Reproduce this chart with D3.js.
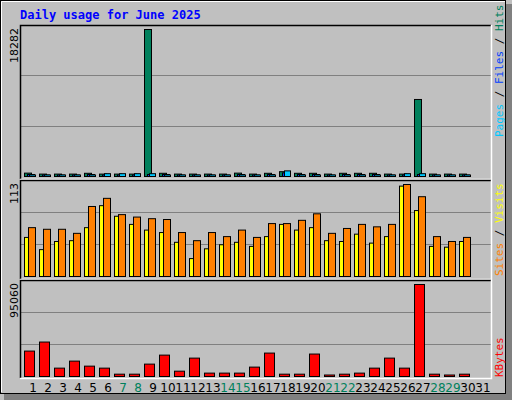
<!DOCTYPE html>
<html><head><meta charset="utf-8">
<script src="https://cdn.jsdelivr.net/npm/d3@7"></script>
<style>body{margin:0;background:#fff}</style>
</head><body>
<script>
var days = d3.range(1, 32);
var weekend = [7, 8, 14, 15, 21, 22, 28, 29];
var hits  = [420,300,300,300,400,300,300,300,18282,400,300,300,300,300,420,300,400,600,400,400,300,400,400,400,300,300,9580,300,300,300,0];
var files = [250,150,150,150,250,150,150,150,250,250,150,150,150,150,250,150,250,450,250,250,150,250,250,250,150,150,250,150,150,150,0];
var pages = [100,80,80,80,150,350,350,350,350,150,80,80,80,80,100,80,100,700,100,100,80,100,100,100,80,350,350,80,80,80,0];
var visits = [48,33,43,44,60,87,74,64,57,54,42,22,34,39,42,37,49,64,57,60,44,43,52,41,49,111,81,37,36,43,0];
var sites  = [60,58,58,53,86,96,76,73,71,70,54,44,54,49,57,48,65,65,69,77,53,59,64,61,64,113,98,49,43,48,0];
var kbytes = [26270,35600,8640,15900,10700,8640,2400,2400,12800,22100,5500,19000,3500,3500,3500,9700,24200,2400,2400,23200,1400,2400,3500,8640,19000,8640,95060,2400,1400,2400,0];

var W = 512, H = 400, L = 20, R = 491;
var svg = d3.select('body').append('svg').attr('width', W).attr('height', H)
  .style('font-family', 'DejaVu Sans Mono, monospace');

// background, shadow and border
svg.append('rect').attr('x', 0).attr('y', 0).attr('width', W).attr('height', H).attr('fill', '#c0c0c0');
svg.append('rect').attr('x', 506).attr('y', 4).attr('width', 6).attr('height', 396).attr('fill', '#808080');
svg.append('rect').attr('x', 4).attr('y', 394).attr('width', 508).attr('height', 6).attr('fill', '#808080');
svg.append('rect').attr('x', 0.5).attr('y', 0.5).attr('width', 505).attr('height', 393).attr('fill', 'none').attr('stroke', '#000');
svg.append('path').attr('d', 'M1.5,392V1.5H505').attr('fill', 'none').attr('stroke', '#fff');

svg.append('text').attr('x', 20).attr('y', 19).attr('fill', '#0000ff')
  .style('font-size', '12px').style('font-weight', 'bold').text('Daily usage for June 2025');

var x = d3.scaleBand().domain(days).range([L + 4, L + 4 + 15 * 31]).paddingInner(0);

var panels = [
  {top: 25, bot: 179, base: 176, maxY: 29, max: 18282, label: '18282'},
  {top: 180, bot: 279, base: 276, maxY: 184, max: 113, label: '113'},
  {top: 280, bot: 378, base: 376, maxY: 284, max: 95060, label: '95060'}
];

panels.forEach(function(p) {
  p.y = d3.scaleLinear().domain([0, p.max]).range([p.base, p.maxY]);
  var g = svg.append('g');
  g.append('rect').attr('x', L).attr('y', p.top).attr('width', R - L).attr('height', p.bot - p.top).attr('fill', '#c0c0c0');
  // grid lines
  [1 / 3, 2 / 3].forEach(function(f) {
    var gy = Math.round(p.base - (p.base - p.top) * f) + 0.5;
    g.append('line').attr('x1', L).attr('x2', R).attr('y1', gy).attr('y2', gy).attr('stroke', '#808080');
  });
  g.append('path').attr('d', 'M' + (L + 0.5) + ',' + (p.bot) + 'V' + (p.top + 0.5) + 'H' + R).attr('fill', 'none').attr('stroke', '#000').attr('stroke-width', 1.5);
  g.append('path').attr('d', 'M' + (L) + ',' + (p.bot + 0.5) + 'H' + (R + 0.5) + 'V' + (p.top)).attr('fill', 'none').attr('stroke', '#fff').attr('stroke-width', 1.5);
  g.append('text').attr('transform', 'translate(18,' + (p.top + 3) + ') rotate(-90)')
    .attr('text-anchor', 'end').style('font-size', '11px').attr('fill', '#000')
    .style('font-family', 'DejaVu Sans, sans-serif').text(p.label);
});

function bars(panel, data, dx, w, color) {
  svg.append('g').selectAll('rect').data(data).enter()
    .filter(function(d) { return d > 0; })
    .append('rect')
    .attr('x', function(d, i) { return x(days[i]) + dx + 0.5; })
    .attr('y', function(d) { return Math.min(panel.y(d), panel.base - 1.5) + 0.5; })
    .attr('width', w)
    .attr('height', function(d) { return Math.max(panel.base - panel.y(d), 1.5); })
    .attr('fill', color).attr('stroke', '#000');
}
bars(panels[0], hits, 0, 7, '#00805c');
bars(panels[0], files, 3, 7, '#0040ff');
bars(panels[0], pages, 5, 6, '#00c8ff');
bars(panels[1], visits, 0, 5, '#ffff00');
bars(panels[1], sites, 4, 7, '#ff8000');
bars(panels[2], kbytes, 0, 10, '#ff0000');

// day labels
svg.append('g').selectAll('text').data(days).enter().append('text')
  .attr('x', function(d) { return x(d) + 9; })
  .attr('y', 392).attr('text-anchor', 'middle')
  .style('font-size', '12px').style('font-family', 'DejaVu Sans, sans-serif')
  .attr('fill', function(d) { return weekend.indexOf(d) >= 0 ? '#00805c' : '#000'; })
  .text(function(d) { return d; });

// right side legends
function legend(yb, parts) {
  var t = svg.append('text').attr('transform', 'translate(503,' + yb + ') rotate(-90)')
    .style('font-size', '11px').attr('xml:space', 'preserve');
  parts.forEach(function(pt) { t.append('tspan').attr('fill', pt[1]).text(pt[0]); });
}
legend(137, [['Pages', '#00c8ff'], [' / ', '#000'], ['Files', '#0040ff'], [' / ', '#000'], ['Hits', '#00805c']]);
legend(276, [['Sites', '#ff8000'], [' / ', '#000'], ['Visits', '#ffff00']]);
legend(377, [['KBytes', '#ff0000']]);
</script>
</body></html>
